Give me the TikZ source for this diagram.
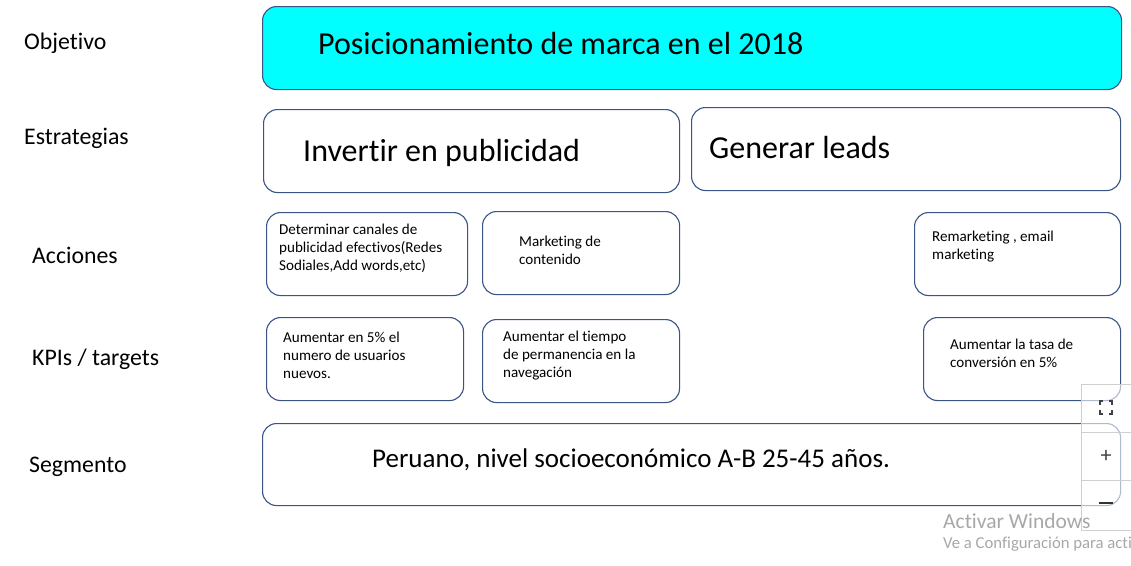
\documentclass[tikz,border=0pt]{standalone}
\usepackage{fontspec}
\setmainfont[Ligatures=NoCommon]{Carlito}
\definecolor{bord}{HTML}{3B5486}
\definecolor{cy}{HTML}{00FFFF}
\definecolor{wm}{HTML}{A8A8A8}
\definecolor{wg}{HTML}{CFCFCF}
\begin{document}
\begin{tikzpicture}[x=1pt,y=-1pt,
  box/.style={draw=bord, line width=1.1pt, rounded corners=14pt, anchor=north west, inner sep=0pt},
  lbl/.style={anchor=west, font=\fontsize{23.8}{28}\selectfont, inner sep=0pt},
  big/.style={anchor=west, font=\fontsize{32}{36}\selectfont, inner sep=0pt},
  small/.style={anchor=west, align=left, font=\fontsize{15.1}{18}\selectfont, inner sep=0pt}]
\useasboundingbox[fill=white] (0,0) rectangle (1131,565);
% left labels
\node[lbl] (lobj) at (24,43.5) {Objetivo};
\node[lbl] (lest) at (24,138.5) {Estrategias};
\node[lbl] (lacc) at (32,255.5) {Acciones};
\node[lbl] (lkpi) at (32,359.5) {KPIs / targets};
\node[lbl] (lseg) at (29,466.5) {Segmento};
% boxes
\node[box, fill=cy, minimum width=859pt, minimum height=83pt] (obj) at (262,6) {};
\node[box, minimum width=416pt, minimum height=83pt] (e1) at (263,109) {};
\node[box, minimum width=429pt, minimum height=83pt] (e2) at (691,107) {};
\node[box, minimum width=201pt, minimum height=83pt] (a1) at (266,212) {};
\node[box, minimum width=197pt, minimum height=83pt] (a2) at (482,211) {};
\node[box, minimum width=206pt, minimum height=83pt] (a3) at (914,212) {};
\node[box, minimum width=197pt, minimum height=83pt] (k1) at (266,317) {};
\node[box, minimum width=197pt, minimum height=83pt] (k2) at (482,319) {};
\node[box, minimum width=197pt, minimum height=83pt] (k3) at (923,317) {};
\node[box, minimum width=858pt, minimum height=82pt] (seg) at (262,423) {};
% texts
\node[big] (tobj) at (318,43.5) {Posicionamiento de marca en el 2018};
\node[big] (te1) at (303,153) {Invertir en publicidad};
\node[big] (te2) at (709,147.5) {Generar leads};
\node[small] (ta1) at (279,248) {Determinar canales de\\publicidad efectivos(Redes\\Sodiales,Add words,etc)};
\node[small] (ta2) at (519,250) {Marketing de\\contenido};
\node[small] (ta3) at (932,247) {Remarketing , email\\marketing};
\node[small] (tk1) at (283,355) {Aumentar en 5\% el\\numero de usuarios\\nuevos.};
\node[small] (tk2) at (503,356) {Aumentar el tiempo\\de permanencia en la\\navegación};
\node[small] (tk3) at (950,353.5) {Aumentar la tasa de\\conversión en 5\%};
\node[anchor=west, inner sep=0pt, font=\fontsize{27}{30}\selectfont] (tseg) at (372,459.5) {Peruano, nivel socioeconómico A-B 25-45 años.};
% zoom widget
\node[draw=wg, line width=0.8pt, fill=white, fill opacity=0.6, draw opacity=1, anchor=north west, minimum width=50pt, minimum height=146pt, inner sep=0pt] (wid) at (1081,384) {};
\draw[wg, line width=0.8pt] (1081,432) -- (1131,432);
\draw[wg, line width=0.8pt] (1081,480) -- (1131,480);
\draw[black!75, line width=1.2pt] (1100,405) |- (1103,401) (1109,401) -| (1112,405) (1112,410) |- (1109,414) (1103,414) -| (1100,410);
\node[font=\fontsize{22}{22}\selectfont, text=black!75, inner sep=0pt] (plus) at (1106,456) {+};
\draw[black!80, line width=2.2pt] (1099,503) -- (1113,503);
% watermark
\node[anchor=west, inner sep=0pt, text=wm, font=\fontsize{21.5}{24}\selectfont] (w1) at (943,521) {Activar Windows};
\node[anchor=west, inner sep=0pt, text=wm, font=\fontsize{16.7}{18}\selectfont] (w2) at (943,544) {Ve a Configuración para acti};
\end{tikzpicture}
\end{document}
